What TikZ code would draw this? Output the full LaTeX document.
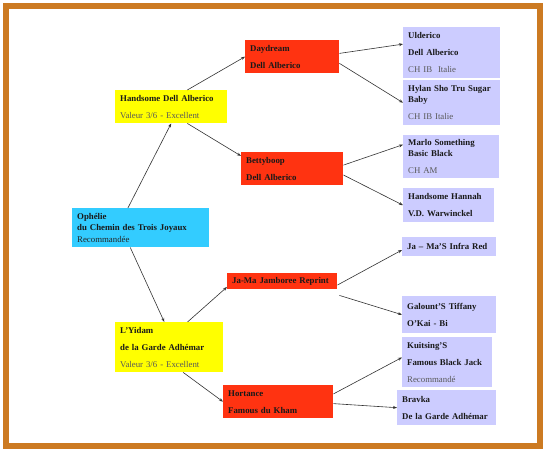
\documentclass[tikz,border=0pt]{standalone}
\usepackage{fontspec}
\setmainfont{Liberation Serif}
\usetikzlibrary{arrows.meta,calc}

\definecolor{frameorange}{RGB}{204,122,34}
\definecolor{sirecyan}{RGB}{51,204,255}
\definecolor{sireyellow}{RGB}{255,255,0}
\definecolor{sirered}{RGB}{255,51,17}
\definecolor{sirelilac}{RGB}{204,204,255}
\newcommand{\plain}[1]{{\mdseries\color{black!65}#1}}

\begin{document}
\begin{tikzpicture}[x=1pt, y=-1pt,
  dog/.style={anchor=north west, inner xsep=5pt, inner ysep=0pt, align=left,
    font=\fontsize{8.8}{11.5}\selectfont\bfseries, text=black!90},
  self/.style={dog, fill=sirecyan},
  parent/.style={dog, fill=sireyellow},
  grand/.style={dog, fill=sirered},
  great/.style={dog, fill=sirelilac},
  link/.style={draw=black!80, line width=0.6pt, -{Stealth[length=4pt,width=3pt]}}
]

  \def\gap{5.5pt}

  % page and frame
  \useasboundingbox (0,0) rectangle (550,452);
  \fill[white] (0,0) rectangle (550,452);
  \draw[frameorange, line width=6pt] (6,6) rectangle (540,445.5);

  % the dog
  \node[self, text width=127pt, minimum height=39pt] (ophelie) at (72,208)
    {Ophélie\\du Chemin des Trois Joyaux\\\plain{\color{black!85}Recommandée}};

  % parents
  \node[parent, text width=102pt, minimum height=33pt] (handsome) at (115,90)
    {Handsome Dell Alberico\\[\gap]\plain{Valeur 3/6 - Excellent}};
  \node[parent, text width=98pt, minimum height=50pt] (yidam) at (115,322)
    {L'Yidam\\[\gap]de la Garde Adhémar\\[\gap]\plain{Valeur 3/6 - Excellent}};

  % grandparents
  \node[grand, text width=84pt, minimum height=33pt] (daydream) at (245,40)
    {Daydream\\[\gap]Dell Alberico};
  \node[grand, text width=92pt, minimum height=33pt] (betty) at (241,152)
    {Bettyboop\\[\gap]Dell Alberico};
  \node[grand, text width=100pt, minimum height=16pt] (jama) at (227,273)
    {Ja-Ma Jamboree Reprint};
  \node[grand, text width=100pt, minimum height=33pt] (hortance) at (223,385)
    {Hortance\\[\gap]Famous du Kham};

  % great-grandparents
  \node[great, text width=87pt, minimum height=51pt] (ulderico) at (403,27)
    {Ulderico\\[\gap]Dell Alberico\\[\gap]\plain{CH IB\ \ Italie}};
  \node[great, text width=87pt, minimum height=45pt] (hylan) at (403,80)
    {Hylan Sho Tru Sugar\\Baby\\[\gap]\plain{CH IB Italie}};
  \node[great, text width=86pt, minimum height=43pt] (marlo) at (403,135)
    {Marlo Something\\Basic Black\\[\gap]\plain{CH AM}};
  \node[great, text width=81pt, minimum height=34pt] (hannah) at (403,188)
    {Handsome Hannah\\[\gap]V.D. Warwinckel};
  \node[great, text width=84pt, minimum height=19pt] (infrared) at (402,237)
    {Ja -- Ma'S Infra Red};
  \node[great, text width=84pt, minimum height=37pt] (galount) at (402,296)
    {Galount'S Tiffany\\[\gap]O'Kai - Bi};
  \node[great, text width=80pt, minimum height=50pt] (kuitsing) at (402,337)
    {Kuitsing'S\\[\gap]Famous Black Jack\\[\gap]\plain{Recommandé}};
  \node[great, text width=89pt, minimum height=35pt] (bravka) at (397,390)
    {Bravka\\[\gap]De la Garde Adhémar};

  % arrows
  \draw[link] (ophelie.123) -- (handsome.south);
  \draw[link] (ophelie.242) -- (yidam.101);
  \draw[link] (handsome.46) -- (daydream.west);
  \draw[link] (handsome.-46) -- (betty.166);
  \draw[link] (yidam.54) -- (jama.186);
  \draw[link] (yidam.-61) -- (hortance.west);
  \draw[link] (daydream.4) -- (ulderico.170);
  \draw[link] (daydream.-8) -- (hylan.west);
  \draw[link] (betty.4) -- (marlo.166);
  \draw[link] (betty.-7) -- (hannah.west);
  \draw[link] (jama.-4) -- (infrared.184);
  \draw[link] ($(jama.south east)+(2,6)$) -- (galount.west);
  \draw[link] (hortance.8) -- (kuitsing.174);
  \draw[link] (hortance.-2) -- (bravka.west);

\end{tikzpicture}
\end{document}
